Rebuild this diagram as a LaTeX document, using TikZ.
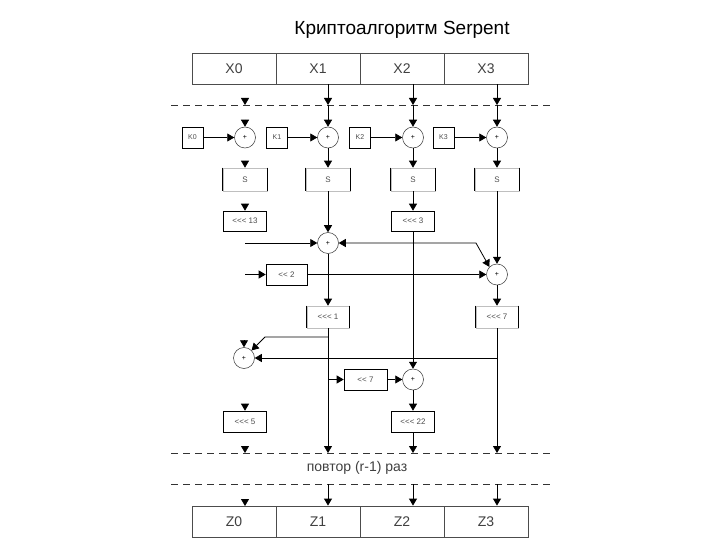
\documentclass[tikz,border=0pt]{standalone}
\usepackage{fontspec}
\setmainfont{Liberation Sans}[Ligatures=TeXOff]
\usetikzlibrary{arrows.meta,calc}
\begin{document}
\begin{tikzpicture}[x=1pt,y=-1pt,
  >={Triangle[length=7pt,width=8pt]},
  conn/.style={line width=0.8pt,->},
  bigbox/.style={draw=black!70,line width=0.8pt,minimum width=84pt,minimum height=31pt,inner sep=0pt,font=\fontsize{14}{16}\selectfont,text=black!75},
  kbox/.style={draw,line width=0.6pt,minimum width=21pt,minimum height=21pt,inner sep=0pt,font=\fontsize{7}{8}\selectfont,text=black!70},
  regbox/.style={draw,line width=0.6pt,minimum width=43pt,minimum height=21pt,inner sep=0pt,font=\fontsize{8}{9}\selectfont,text=black!70},
  openbox/.style={regbox,draw=black!25,minimum width=44pt,minimum height=23pt},
  sumnode/.style={circle,draw=black!80,line width=0.5pt,minimum size=21pt,inner sep=0pt,font=\fontsize{7}{8}\selectfont},
  dashline/.style={line width=0.8pt,dash pattern=on 7pt off 5pt,draw=black!80},
  sideline/.style={line width=0.7pt},
]
\useasboundingbox (0,0) rectangle (720,540);

\node[font=\fontsize{19}{22}\selectfont] (title) at (402,30) {Криптоалгоритм Serpent};

% top and bottom registers
\node[bigbox] (x0) at (234,68.5) {X0};
\node[bigbox] (x1) at (318,68.5) {X1};
\node[bigbox] (x2) at (402,68.5) {X2};
\node[bigbox] (x3) at (486,68.5) {X3};
\node[bigbox] (z0) at (234,521.5) {Z0};
\node[bigbox] (z1) at (318,521.5) {Z1};
\node[bigbox] (z2) at (402,521.5) {Z2};
\node[bigbox] (z3) at (486,521.5) {Z3};

% dashed lines
\coordinate (dlaL) at (171,105); \coordinate (dlaR) at (550,105);
\coordinate (dlbL) at (171,453); \coordinate (dlbR) at (550,453);
\coordinate (dlcL) at (171,484); \coordinate (dlcR) at (550,484);
\draw[dashline] (dlaL) -- (dlaR);
\draw[dashline] (dlbL) -- (dlbR);
\draw[dashline] (dlcL) -- (dlcR);

\foreach \i/\x in {0/245,1/328,2/413,3/497} {
  \coordinate (ta\i) at (\x,105);
  \coordinate (mb\i) at (\x,453);
  \coordinate (lc\i) at (\x,484);
}
\coordinate (zt0) at (245,506);

\node[font=\fontsize{14}{16}\selectfont,text=black!75] (rep) at (357,468) {повтор (r-1) раз};

% key mixing
\node[kbox] (k0) at (192.5,137.5) {K0};
\node[kbox] (k1) at (277,137.5) {K1};
\node[kbox] (k2) at (360,137.5) {K2};
\node[kbox] (k3) at (443.5,137.5) {K3};
\node[sumnode] (a0) at (245,137.5) {+};
\node[sumnode] (a1) at (328,137.5) {+};
\node[sumnode] (a2) at (413,137.5) {+};
\node[sumnode] (a3) at (497,137.5) {+};

% S boxes
\node[openbox] (s0) at (245,179.5) {S};
\node[openbox] (s1) at (328,179.5) {S};
\node[openbox] (s2) at (413,179.5) {S};
\node[openbox] (s3) at (497,179.5) {S};

% rotations and shifts
\node[regbox,minimum height=20pt] (rot13) at (245,221) {<<< 13};
\node[regbox,minimum height=20pt] (rot3) at (413,221) {<<< 3};
\node[sumnode] (sA) at (328,243) {+};
\node[regbox,minimum width=41pt] (sh2) at (286.5,274.5) {<< 2};
\node[sumnode] (sB) at (497,274.5) {+};
\node[openbox,minimum width=42pt,minimum height=22pt] (rot1) at (328,317) {<<< 1};
\node[openbox,minimum width=42pt,minimum height=22pt] (rot7) at (497,317) {<<< 7};
\node[sumnode] (sC) at (244,358) {+};
\node[regbox] (sh7) at (365.5,379.5) {<< 7};
\node[sumnode] (sD) at (413,379.5) {+};
\node[regbox] (rot5) at (245,421.5) {<<< 5};
\node[regbox] (rot22) at (413,421.5) {<<< 22};

\foreach \n in {s0,s1,s2,s3,rot1,rot7}
  \draw[sideline] (\n.north west) -- (\n.south west) (\n.north east) -- (\n.south east);

% columns 1..3 top part
\foreach \i in {1,2,3} {
  \draw[conn] (x\i.south -| ta\i) -- (ta\i);
  \draw[conn] (ta\i) -- (a\i);
  \draw[conn] (a\i) -- (s\i);
}
\foreach \i in {0,1,2,3} \draw[conn] (k\i) -- (a\i);

% column 0 (heads only)
\draw[conn] ([yshift=7pt]ta0) -- (ta0);
\draw[conn] ([yshift=7pt]a0.north) -- (a0.north);
\draw[conn] ([yshift=7pt]s0.north) -- (s0.north);
\draw[conn] ([yshift=7pt]rot13.north) -- (rot13.north);
\draw[conn] ([yshift=7pt]sC.north) -- (sC.north);
\draw[conn] ([yshift=7pt]rot5.north) -- (rot5.north);
\draw[conn] ([yshift=7pt]mb0) -- (mb0);
\draw[conn] ([yshift=7pt]zt0) -- (zt0);

% linear transformation
\draw[conn] (s1) -- (sA);
\draw[conn] (s2) -- (rot3);
\draw[conn] (rot3) -- (sD);
\draw[conn] (s3) -- (sB);

\coordinate (in0) at (245,243);
\draw[conn] (in0) -- (sA);
\coordinate (bendB) at (476,243);
\draw[line width=0.8pt,<->] (sA.east) -- (bendB) -- (sB.north west);
\coordinate (in1) at (245,274.5);
\draw[conn] (in1) -- (sh2);
\draw[conn] (sh2) -- (sB);

\draw[conn] (sA) -- (rot1);
\draw[conn] (sB) -- (rot7);
\draw[conn] (rot1) -- (mb1);
\draw[conn] (rot7) -- (mb3);

\coordinate (j1) at (328,337);
\coordinate (bendC) at (265,337);
\draw[conn] (j1) -- (bendC) -- (sC.north east);
\coordinate (j3) at (497,358);
\draw[conn] (j3) -- (sC);
\coordinate (j2) at (328,379.5);
\draw[conn] (j2) -- (sh7);
\draw[conn] (sh7) -- (sD);
\draw[conn] (sD) -- (rot22);
\draw[conn] (rot22) -- (mb2);

% output
\foreach \i in {1,2,3} \draw[conn] (lc\i) -- (lc\i |- z\i.north);
\end{tikzpicture}
\end{document}
